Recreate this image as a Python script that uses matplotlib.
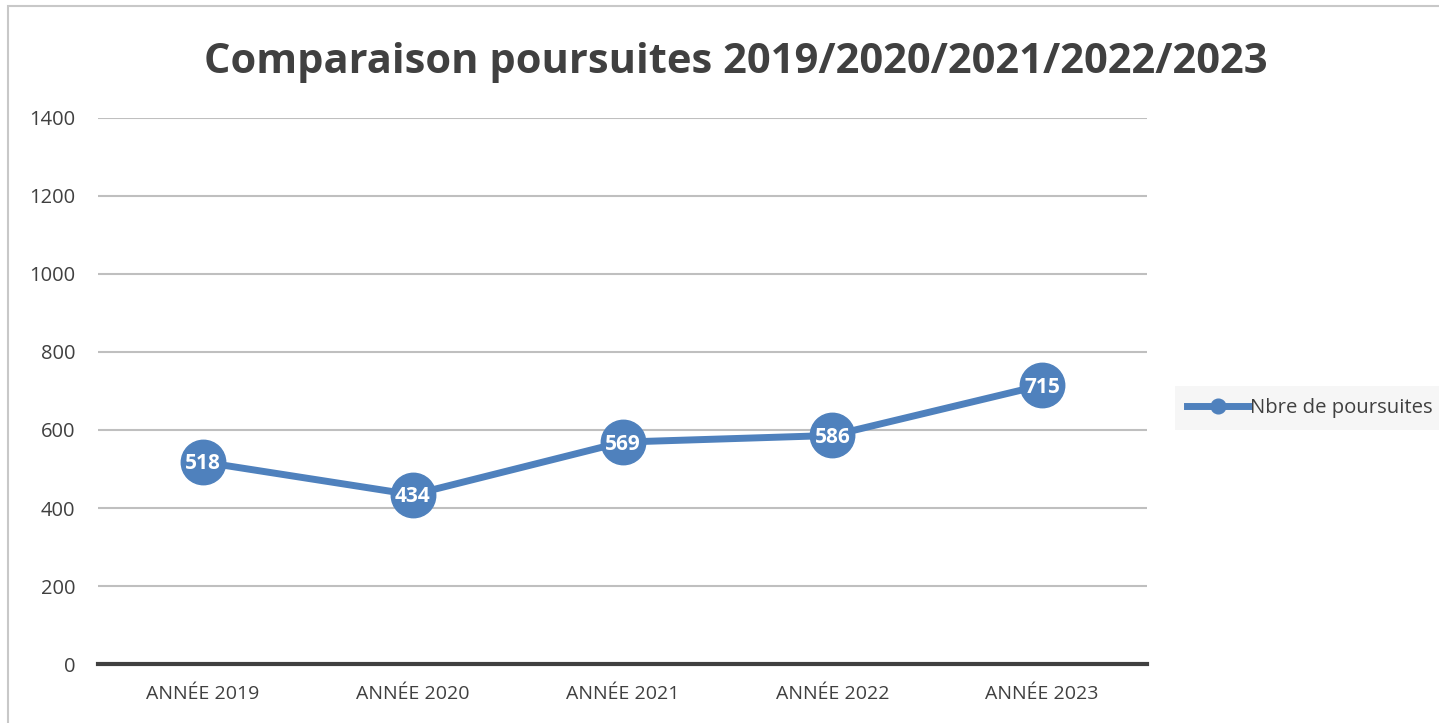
import matplotlib
matplotlib.use("Agg")
import matplotlib.pyplot as plt
from matplotlib.patches import Rectangle

# ── Data ───────────────────────────────────────────────────────────────────────
annees = ["ANNÉE 2019", "ANNÉE 2020", "ANNÉE 2021", "ANNÉE 2022", "ANNÉE 2023"]
poursuites = [518, 434, 569, 586, 715]
y_ticks = [0, 200, 400, 600, 800, 1000, 1200, 1400]

blue = "#4F81BD"
dark = "#404040"

plt.rcParams["font.family"] = ["Open Sans", "DejaVu Sans"]

fig = plt.figure(figsize=(14.39, 7.23), dpi=100)
ax = fig.add_axes([0.0681, 0.0816, 0.7290, 0.7552])

x = list(range(len(annees)))
ax.plot(x, poursuites, color=blue, lw=5, marker="o", markersize=32,
        markerfacecolor=blue, markeredgecolor=blue, zorder=3,
        label="Nbre de poursuites")

for xi, val in zip(x, poursuites):
    ax.text(xi, val - 5, str(val), ha="center", va="center", color="white",
            fontsize=15, fontweight="bold", zorder=4)

ax.set_xlim(-0.5, len(annees) - 0.5)
ax.set_ylim(0, 1400)
ax.set_yticks(y_ticks)
ax.set_xticks(x)
ax.set_xticklabels(annees)
ax.grid(axis="y", color="#BFBFBF", lw=1.5, zorder=0)
ax.set_axisbelow(True)
ax.tick_params(axis="both", length=0, colors=dark)
ax.tick_params(axis="x", labelsize=14, pad=15)
ax.tick_params(axis="y", labelsize=14.5, pad=16.5)
for s in ["top", "right", "left"]:
    ax.spines[s].set_visible(False)
ax.spines["bottom"].set_color(dark)
ax.spines["bottom"].set_linewidth(3)
ax.spines["bottom"].set_zorder(2)

fig.text(0.511, 0.913, "Comparaison poursuites 2019/2020/2021/2022/2023",
         ha="center", va="center", fontsize=30, fontweight="bold", color=dark)

leg = ax.legend(loc="center left", bbox_to_anchor=(1.017, 0.469), frameon=True,
                fontsize=14.6, markerscale=0.33, handlelength=3.0,
                handletextpad=0.1, borderpad=0.6)
leg.get_frame().set_facecolor("#F4F4F4")
leg.get_frame().set_edgecolor("none")
leg.get_frame().set_boxstyle("square", pad=0)
for t in leg.get_texts():
    t.set_color(dark)

# chart border (only top and left visible, as in the original crop)
fig.patches.append(Rectangle((0.0055, -0.01), 1.1, 1.0017, transform=fig.transFigure,
                             fill=False, edgecolor="#C8C8C8", lw=1.5))

fig.savefig("out.png", dpi=100)
